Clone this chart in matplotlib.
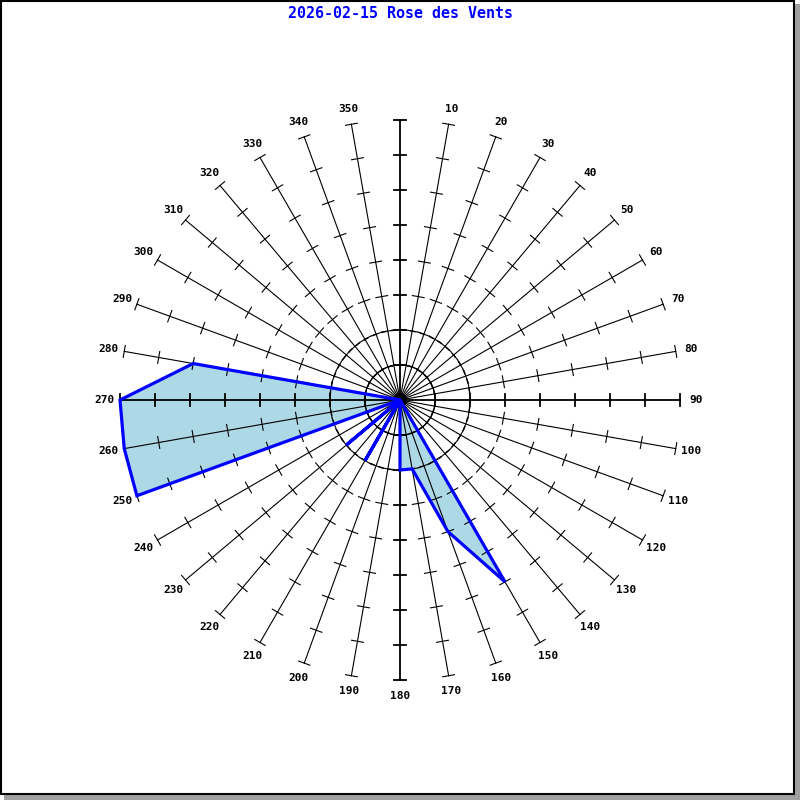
import numpy as np
import matplotlib
matplotlib.use("Agg")
import matplotlib.pyplot as plt
from matplotlib.patches import Polygon, Circle, Rectangle

# Wind directions (degrees) and frequency per direction (tick units)
directions = list(range(0, 360, 10))
values = [0, 0, 0, 0, 0, 0, 0, 0, 0, 0,      # 0..90
          0, 0, 0, 0, 0, 6, 4, 2, 2, 0,      # 100..190
          0, 2, 0, 2, 0, 8, 8, 8, 6, 0,      # 200..290
          0, 0, 0, 0, 0, 0]                  # 300..350
direction_labels = [str(d) for d in directions]
title = "2026-02-15 Rose des Vents"

r_max = 8          # number of ticks along each spoke
circles = [1, 2]   # dashed reference circles

fig = plt.figure(figsize=(8, 8), dpi=100)
ax = fig.add_axes([0, 0, 1, 1])
half = 400 / 35.0
ax.set_xlim(-half, half)
ax.set_ylim(-half, half)
ax.set_aspect("equal")
ax.axis("off")


def xy(r, deg):
    a = np.radians(deg)
    return r * np.sin(a), r * np.cos(a)


# filled rose
pts = [xy(v, d) for v, d in zip(values, directions)]
ax.add_patch(Polygon(pts, closed=True, facecolor="#add8e6", edgecolor="none", zorder=1))

# spokes with ticks
tick_half = 6 / 35.0
for d, lab in zip(directions, direction_labels):
    x_end, y_end = xy(r_max, d)
    lw = 1.3 if d % 90 == 0 else 0.8
    ax.plot([0, x_end], [0, y_end], color="black", lw=lw, zorder=2)
    a = np.radians(d)
    px, py = np.cos(a), -np.sin(a)
    for k in range(1, r_max + 1):
        cx, cy = xy(k, d)
        ax.plot([cx - px * tick_half, cx + px * tick_half],
                [cy - py * tick_half, cy + py * tick_half],
                color="black", lw=lw, zorder=2)
    if d != 0:
        lx, ly = xy(8.45, d)
        ax.text(lx, ly, lab, ha="center", va="center", fontsize=8,
                fontweight="bold", family="DejaVu Sans Mono")

for rc in circles:
    ax.add_patch(Circle((0, 0), rc, fill=False, edgecolor="black", lw=1,
                        linestyle=(0, (4, 3)), zorder=2))

ax.add_patch(Circle((0, 0), 0.18, color="black", zorder=3))

# rose outline
ax.add_patch(Polygon(pts, closed=True, facecolor="none", edgecolor="#0000ff",
                     lw=2.3, joinstyle="miter", zorder=4))

fig.text(0.5, 1 - 14 / 800, title, ha="center", va="center", color="#0000ff",
         fontsize=10.8, fontweight="bold", family="DejaVu Sans Mono")

# frame with drop shadow
fig.patches.append(Rectangle((4 / 800, 0), 796 / 800, 5 / 800, transform=fig.transFigure,
                             facecolor="#a0a0a0", edgecolor="none", zorder=0))
fig.patches.append(Rectangle((795 / 800, 0), 5 / 800, 796 / 800, transform=fig.transFigure,
                             facecolor="#a0a0a0", edgecolor="none", zorder=0))
fig.patches.append(Rectangle((1 / 800, 6 / 800), 793 / 800, 793 / 800, transform=fig.transFigure,
                             facecolor="none", edgecolor="black", lw=1.5, zorder=5))

fig.savefig("out.png", dpi=100)
